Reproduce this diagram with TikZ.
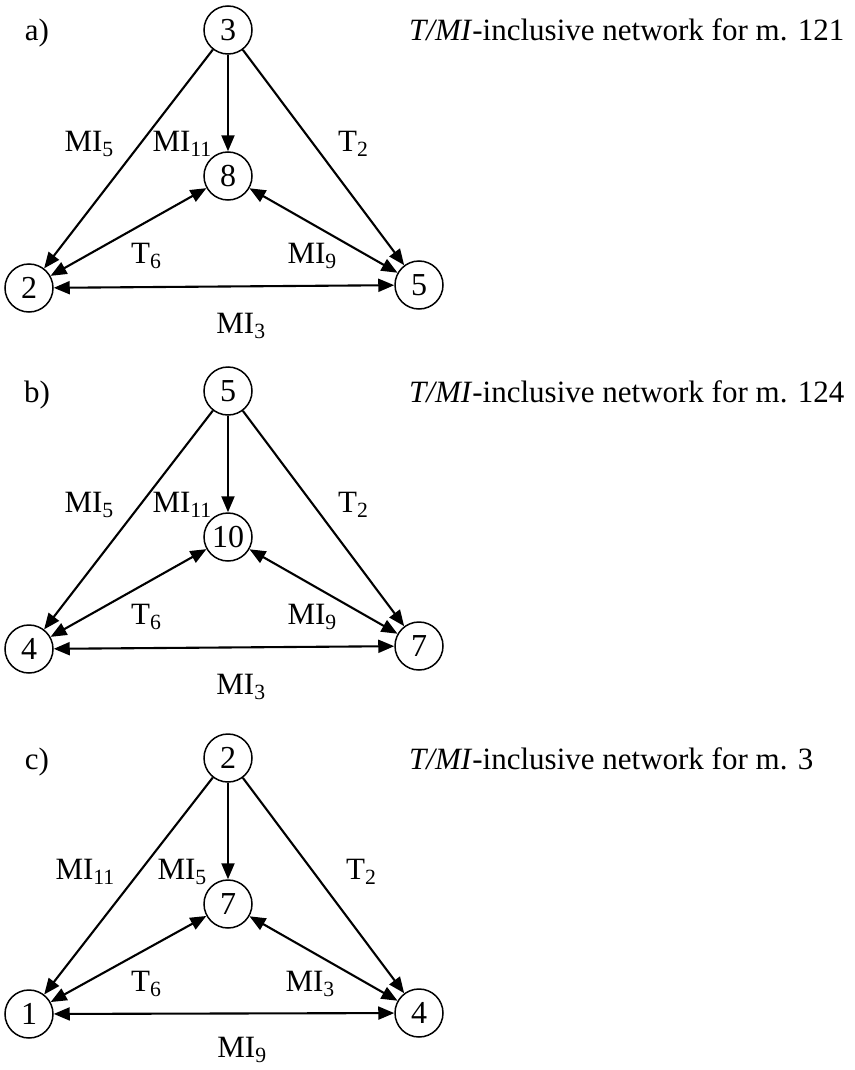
\documentclass[tikz,border=0pt]{standalone}
\usepackage{fontspec}
\setmainfont{Liberation Serif}
\usetikzlibrary{arrows.meta}

\tikzset{
  state/.style={draw, circle, line width=1.5pt, minimum size=48pt, inner sep=0pt, font=\fontsize{32}{36}\selectfont},
  link/.style={line width=2.1pt, -{Triangle[length=16pt,width=13pt]}},
  both/.style={line width=2.1pt, {Triangle[length=16pt,width=13pt]}-{Triangle[length=16pt,width=13pt]}},
  lbl/.style={inner sep=0pt, anchor=base},
}

\begin{document}
\begin{tikzpicture}[x=1pt, y=-1pt, font=\fontsize{31}{36}\selectfont]
\useasboundingbox (0,0) rectangle (854,1070);

% a) network for m. 121
\begin{scope}[shift={(0,30)}]
  \node (a3) at (228,0) [state] {3};
  \node (a8) at (228,146) [state] {8};
  \node (a2) at (29,258) [state] {2};
  \node (a5) at (419,255) [state] {5};
  \node (atag) at (37,11) [lbl] {a)};
  \node (atitle) at (409,11) [lbl, anchor=base west] {\textit{T/MI}-inclusive network for m. 121};

  \draw[link] (a3) -- (a2);
  \draw[link] (a3) -- (a8);
  \draw[link] (a3) -- (a5);
  \draw[both] (a8) -- (a2);
  \draw[both] (a8) -- (a5);
  \draw[both] (a2) -- (a5);

  \node (aMI5) at (114,121) [lbl, anchor=base east] {MI\textsubscript{5}};
  \node (aMI11) at (212,121) [lbl, anchor=base east] {MI\textsubscript{11}};
  \node (aT2) at (338,121) [lbl, anchor=base west] {T\textsubscript{2}};
  \node (aT6) at (131,233) [lbl, anchor=base west] {T\textsubscript{6}};
  \node (aMI9) at (337,233) [lbl, anchor=base east] {MI\textsubscript{9}};
  \node (aMI3) at (241,303) [lbl] {MI\textsubscript{3}};
\end{scope}

% b) network for m. 124
\begin{scope}[shift={(0,391)}]
  \node (b5) at (228,0) [state] {5};
  \node (b10) at (228,146) [state] {10};
  \node (b4) at (29,258) [state] {4};
  \node (b7) at (419,255) [state] {7};
  \node (btag) at (37,11) [lbl] {b)};
  \node (btitle) at (409,11) [lbl, anchor=base west] {\textit{T/MI}-inclusive network for m. 124};

  \draw[link] (b5) -- (b4);
  \draw[link] (b5) -- (b10);
  \draw[link] (b5) -- (b7);
  \draw[both] (b10) -- (b4);
  \draw[both] (b10) -- (b7);
  \draw[both] (b4) -- (b7);

  \node (bMI5) at (114,121) [lbl, anchor=base east] {MI\textsubscript{5}};
  \node (bMI11) at (212,121) [lbl, anchor=base east] {MI\textsubscript{11}};
  \node (bT2) at (338,121) [lbl, anchor=base west] {T\textsubscript{2}};
  \node (bT6) at (131,233) [lbl, anchor=base west] {T\textsubscript{6}};
  \node (bMI9) at (337,233) [lbl, anchor=base east] {MI\textsubscript{9}};
  \node (bMI3) at (241,303) [lbl] {MI\textsubscript{3}};
\end{scope}

% c) network for m. 3
\begin{scope}[shift={(0,758)}]
  \node (c2) at (228,0) [state] {2};
  \node (c7) at (228,146) [state] {7};
  \node (c1) at (29,256) [state] {1};
  \node (c4) at (419,255) [state] {4};
  \node (ctag) at (37,11) [lbl] {c)};
  \node (ctitle) at (409,11) [lbl, anchor=base west] {\textit{T/MI}-inclusive network for m. 3};

  \draw[link] (c2) -- (c1);
  \draw[link] (c2) -- (c7);
  \draw[link] (c2) -- (c4);
  \draw[both] (c7) -- (c1);
  \draw[both] (c7) -- (c4);
  \draw[both] (c1) -- (c4);

  \node (cMI11) at (115,121) [lbl, anchor=base east] {MI\textsubscript{11}};
  \node (cMI5) at (207,121) [lbl, anchor=base east] {MI\textsubscript{5}};
  \node (cT2) at (346,121) [lbl, anchor=base west] {T\textsubscript{2}};
  \node (cT6) at (131,233) [lbl, anchor=base west] {T\textsubscript{6}};
  \node (cMI3) at (335,233) [lbl, anchor=base east] {MI\textsubscript{3}};
  \node (cMI9) at (242,299) [lbl] {MI\textsubscript{9}};
\end{scope}
\end{tikzpicture}
\end{document}
